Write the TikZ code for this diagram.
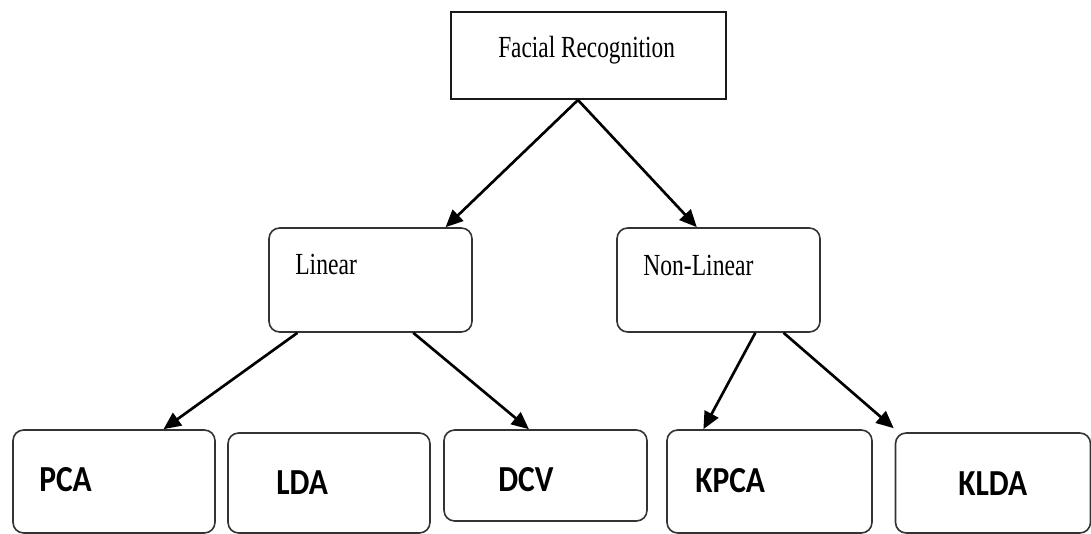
\documentclass[tikz,border=0pt]{standalone}
\usepackage{fontspec}
\usepackage{graphicx}
\usetikzlibrary{arrows.meta,calc}
\newfontfamily\serfont{Liberation Serif}
\newfontfamily\bsans{Carlito}
\tikzset{
  px/.style={x=0.75pt,y=-0.75pt},
  sharpbox/.style={draw=black!90,line width=1.5pt,rectangle,inner sep=0pt},
  roundbox/.style={draw=black!80,line width=1.2pt,rectangle,rounded corners=8pt,inner sep=0pt},
  sertext/.style={anchor=base west,inner sep=0pt,font=\serfont\fontsize{23}{27}\selectfont},
  santext/.style={anchor=base west,inner sep=0pt,font=\bsans\bfseries\fontsize{27.5}{32}\selectfont},
  conn/.style={line width=2pt,-{Triangle[length=13pt,width=11.5pt]}}
}
\newcommand{\sq}[2]{\scalebox{#1}[1]{#2}}
\begin{document}
\begin{tikzpicture}[px]
\useasboundingbox (0,0) rectangle (1091,534);
\fill[white] (0,0) rectangle (1091,534);
% boxes
\node[sharpbox,minimum width=206.25pt,minimum height=65.25pt] (fr) at (588.5,55.5) {};
\node[roundbox,minimum width=152.25pt,minimum height=78pt] (lin) at (370.5,280) {};
\node[roundbox,minimum width=152.25pt,minimum height=78pt] (nl) at (718.5,280) {};
\node[roundbox,minimum width=151.5pt,minimum height=77.25pt] (pca) at (114,481.5) {};
\node[roundbox,minimum width=151.5pt,minimum height=75pt] (lda) at (329,483) {};
\node[roundbox,minimum width=152.25pt,minimum height=68.25pt] (dcv) at (545.5,475.5) {};
\node[roundbox,minimum width=153.75pt,minimum height=77.25pt] (kpca) at (769.5,481.5) {};
\node[roundbox,minimum width=146.25pt,minimum height=75pt] (klda) at (993,483) {};
% texts
\node[sertext] (frt) at (498,58) {\sq{0.76}{Facial Recognition}};
\node[sertext] (lint) at (295,275) {\sq{0.77}{Linear}};
\node[sertext] (nlt) at (643,276) {\sq{0.77}{Non-Linear}};
\node[santext] (pcat) at (39,491) {\sq{0.86}{PCA}};
\node[santext] (ldat) at (276,494) {\sq{0.86}{LDA}};
\node[santext] (dcvt) at (498,491) {\sq{0.86}{DCV}};
\node[santext] (kpcat) at (695,492) {\sq{0.86}{KPCA}};
\node[santext] (kldat) at (958,495) {\sq{0.86}{KLDA}};
% connectors
\draw[conn] ($(fr.south west)!0.462!(fr.south east)$) -- ($(lin.north west)!0.867!(lin.north east)$);
\draw[conn] ($(fr.south west)!0.462!(fr.south east)$) -- ($(nl.north west)!0.394!(nl.north east)$);
\draw[conn] ($(lin.south west)!0.143!(lin.south east)$) -- ($(pca.north west)!0.743!(pca.north east)$);
\draw[conn] ($(lin.south west)!0.709!(lin.south east)$) -- ($(dcv.north west)!0.419!(dcv.north east)$);
\draw[conn] ($(nl.south west)!0.680!(nl.south east)$) -- ($(kpca.north west)!0.180!(kpca.north east)$);
\draw[conn] ($(nl.south west)!0.818!(nl.south east)$) -- ($(klda.north west)+(-1,-4)$);
\end{tikzpicture}
\end{document}
